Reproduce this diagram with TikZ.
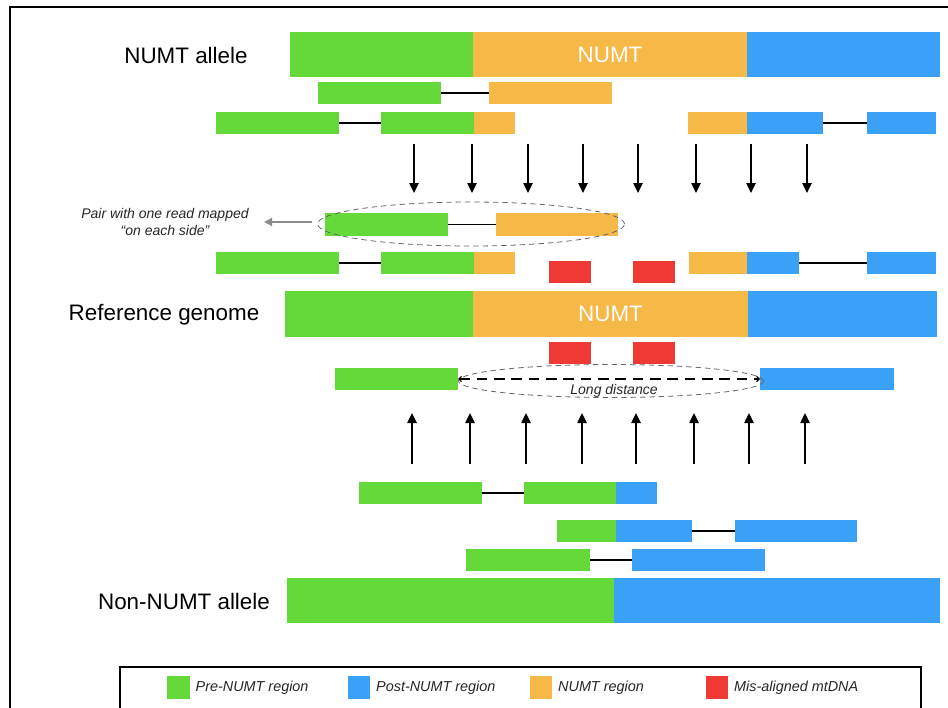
\documentclass[tikz,border=0pt]{standalone}
\usepackage{fontspec}
\setmainfont{Liberation Sans}
\usetikzlibrary{positioning,shapes.geometric,arrows.meta}
\definecolor{pre}{HTML}{66D93A}
\definecolor{post}{HTML}{3AA1F7}
\definecolor{numt}{HTML}{F6B846}
\definecolor{misal}{HTML}{EE3934}
% one coloured block: name, colour, left, right, top, bottom (pixels)
\newcommand{\seg}[6]{\node[seg,fill=#2,minimum width={(#4-#3)*0.75pt},
  minimum height={(#6-#5)*0.75pt}] (#1) at ({(#3+#4)/2},{(#5+#6)/2}) {};}

\begin{document}
\begin{tikzpicture}[x=0.75pt,y=-0.75pt,
seg/.style={rectangle,inner sep=0pt,outer sep=0pt},
mate/.style={line width=1.1pt},
big/.style={font=\fontsize{16.8}{20}\selectfont},
numttxt/.style={font=\fontsize{16.8}{20}\selectfont,text=white},
small/.style={font=\fontsize{10.5}{12.6}\selectfont\itshape,text=black!85},
oval/.style={ellipse,draw=black!60,dash pattern=on 4pt off 3pt,line width=0.6pt,inner sep=0pt},
dn/.style={line width=1.1pt,-{Triangle[length=7.5pt,width=7pt]}},
key/.style={rectangle,minimum size=17pt,inner sep=0pt},
keytxt/.style={small,font=\fontsize{10.8}{13}\selectfont\itshape,inner sep=0pt,label distance=4pt}]
\useasboundingbox (0,0) rectangle (948,707);
\draw[line width=1.5pt] (10,720) -- (10,7) -- (960,7);

% NUMT allele
\seg{ag}{pre}{290}{473}{32}{77}
\seg{an}{numt}{473}{747}{32}{77}
\seg{ab}{post}{747}{940}{32}{77}
\node[numttxt] (ant) at (an) {NUMT};
\node[big] (alab) at (186,55) {NUMT allele};

\seg{r1a}{pre}{318}{441}{82}{104}
\seg{r1b}{numt}{489}{612}{82}{104}
\draw[mate] (r1a.east) -- (r1b.west);

\seg{r2a}{pre}{216}{339}{112}{134}
\seg{r2b}{pre}{381}{474}{112}{134}
\seg{r2c}{numt}{474}{515}{112}{134}
\draw[mate] (r2a.east) -- (r2b.west);
\seg{r3a}{numt}{688}{747}{112}{134}
\seg{r3b}{post}{747}{823}{112}{134}
\seg{r3c}{post}{867}{936}{112}{134}
\draw[mate] (r3b.east) -- (r3c.west);

\foreach \x in {414,472,528,583,638,696,751,807}
  \draw[dn] (\x,144) -- (\x,193);

% read pair over the breakpoint
\seg{p1}{pre}{325}{448}{213}{236}
\seg{p2}{numt}{496}{618}{213}{236}
\draw[mate] (p1.east) -- (p2.west);
\node[oval,minimum width=307*0.75pt,minimum height=44*0.75pt] (pairoval) at (471,224) {};
\node[small,align=center] (pairtxt) at (165,222) {Pair with one read mapped\\``on each side''};
\draw[black!45,line width=1pt,-{Triangle[length=6pt,width=6pt]}] ([xshift=-4pt]pairoval.west |- pairtxt.east) -- ([xshift=8pt]pairtxt.east);

\seg{r4a}{pre}{216}{339}{252}{274}
\seg{r4b}{pre}{381}{474}{252}{274}
\seg{r4c}{numt}{474}{515}{252}{274}
\draw[mate] (r4a.east) -- (r4b.west);
\seg{r5a}{numt}{689}{747}{252}{274}
\seg{r5b}{post}{747}{799}{252}{274}
\seg{r5c}{post}{867}{936}{252}{274}
\draw[mate] (r5b.east) -- (r5c.west);
\seg{m1}{misal}{549}{591}{261}{283}
\seg{m2}{misal}{633}{675}{261}{283}

% Reference genome
\seg{rg}{pre}{285}{473}{291}{337}
\seg{rn}{numt}{473}{748}{291}{337}
\seg{rb}{post}{748}{937}{291}{337}
\node[numttxt] (rnt) at (rn) {NUMT};
\node[big] (rlab) at (164,315) {Reference genome};

\seg{m3}{misal}{549}{591}{342}{364}
\seg{m4}{misal}{633}{675}{342}{364}

% long distance pair
\seg{ld1}{pre}{335}{458}{368}{390}
\seg{ld2}{post}{760}{894}{368}{390}
\node[oval,minimum width=305*0.75pt,minimum height=33*0.75pt] (ldoval) at (611,381) {};
\draw[line width=0.9pt,dash pattern=on 8pt off 5pt,
  {Straight Barb[length=2pt,width=4pt]}-{Straight Barb[length=2pt,width=4pt]}] (ld1.east) -- (ld2.west);
\node[small] (ldtxt) at (614,391) {Long distance};

\foreach \x in {412,470,526,582,636,694,749,805}
  \draw[dn] (\x,464) -- (\x,413);

\seg{b1a}{pre}{359}{482}{482}{504}
\seg{b1b}{pre}{524}{616}{482}{504}
\seg{b1c}{post}{616}{657}{482}{504}
\draw[mate] (b1a.east) -- (b1b.west);
\seg{b2a}{pre}{557}{616}{520}{542}
\seg{b2b}{post}{616}{692}{520}{542}
\seg{b2c}{post}{735}{857}{520}{542}
\draw[mate] (b2b.east) -- (b2c.west);
\seg{b3a}{pre}{466}{590}{549}{571}
\seg{b3b}{post}{632}{765}{549}{571}
\draw[mate] (b3a.east) -- (b3b.west);

% Non-NUMT allele
\seg{ng}{pre}{287}{614}{578}{623}
\seg{nb}{post}{614}{940}{578}{623}
\node[big] (nlab) at (184,601) {Non-NUMT allele};

% legend
\draw[line width=1.2pt] (120,720) -- (120,667) -- (921,667) -- (921,720);
\node[key,fill=pre,label={[keytxt]right:Pre-NUMT region}] (kpre) at (178.5,687.5) {};
\node[key,fill=post,label={[keytxt]right:Post-NUMT region}] (kpost) at (359,687.5) {};
\node[key,fill=numt,label={[keytxt]right:NUMT region}] (knumt) at (541,687.5) {};
\node[key,fill=misal,label={[keytxt]right:Mis-aligned mtDNA}] (kmis) at (717,687.5) {};
\end{tikzpicture}
\end{document}
